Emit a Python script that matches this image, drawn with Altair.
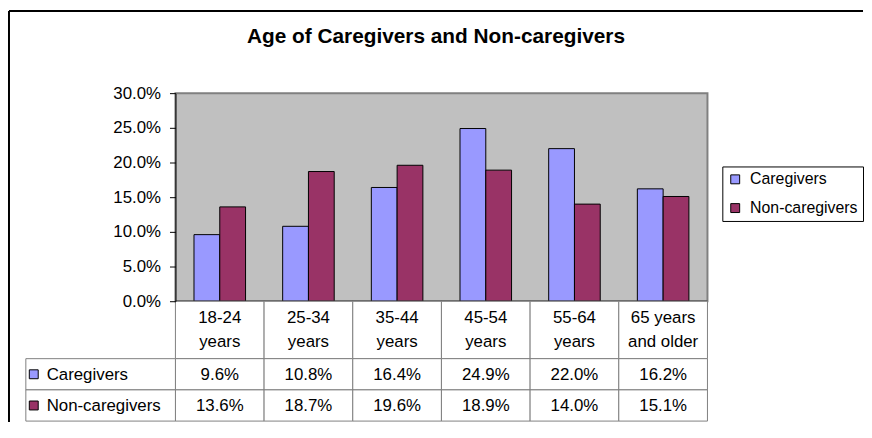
import altair as alt
import pandas as pd

# ---------------- data ----------------
age_groups = ["18-24 years", "25-34 years", "35-44 years",
              "45-54 years", "55-64 years", "65 years and older"]
header_labels = ["18-24\nyears", "25-34\nyears", "35-44\nyears",
                 "45-54\nyears", "55-64\nyears", "65 years\nand older"]
series_names = ["Caregivers", "Non-caregivers"]
caregivers = [9.6, 10.8, 16.4, 24.9, 22.0, 16.2]
non_caregivers = [13.6, 18.7, 19.6, 18.9, 14.0, 15.1]
y_ticks = [0, 5, 10, 15, 20, 25, 30]
colors = ["#9999FF", "#993366"]
title_text = "Age of Caregivers and Non-caregivers"

# ---------------- layout ----------------
FONT = "Liberation Sans"
FS = 17
W, H = 862, 415
PX = [168, 705]      # plot area x range
PY = [293, 83]       # plot area y range (0% -> 30%)
HEAD = [293, 351]    # header row of the data table
BODY = [351, 414]    # two data rows
LABX = [17, 168]     # row-label column
LAB_HALF = (LABX[1] - LABX[0]) / 2
GRID = "#808080"

long = pd.DataFrame({
    "age": age_groups * 2,
    "series": [s for s in series_names for _ in age_groups],
    "value": caregivers + non_caregivers,
})
long["label"] = long["value"].map(lambda v: f"{v:.1f}%")
head = pd.DataFrame({"age": age_groups, "header": header_labels, "row": "header"})
rows = pd.DataFrame({"series": series_names, "col": "label"})
one = pd.DataFrame({"k": [0]})

x_cat = alt.Scale(domain=age_groups, range=PX, paddingInner=0, paddingOuter=0)
y_val = alt.Scale(domain=[0, 30], range=PY, nice=False, zero=True)
x_unit = alt.Scale(domain=[0, 1], range=PX)
frame_x = alt.Scale(domain=[0, 1], range=[0, W])
frame_y = alt.Scale(domain=[0, 1], range=[0, H])
y_head = alt.Scale(domain=["header"], range=HEAD, paddingInner=0, paddingOuter=0)
y_row = alt.Scale(domain=series_names, range=BODY, paddingInner=0, paddingOuter=0)
x_lab = alt.Scale(domain=["label"], range=LABX, paddingInner=0, paddingOuter=0)

color = alt.Color(
    "series:N",
    scale=alt.Scale(domain=series_names, range=colors),
    legend=alt.Legend(
        title=None, orient="none", legendX=720, legendY=157,
        direction="vertical", strokeColor="black", fillColor="white",
        padding=5, symbolType="square", symbolSize=81,
        symbolStrokeColor="black", symbolStrokeWidth=1,
        labelFont=FONT, labelFontSize=16, labelColor="black",
        rowPadding=13, labelOffset=7,
    ),
)

frame_top = alt.Chart(one).mark_rule(color="black", strokeWidth=2).encode(
    y=alt.YDatum(0, type="quantitative", scale=frame_y, axis=None))
frame_left = alt.Chart(one).mark_rule(color="black", strokeWidth=2).encode(
    x=alt.XDatum(0, type="quantitative", scale=frame_x, axis=None))

plot_bg = alt.Chart(one).mark_rect(fill="#C0C0C0", stroke=GRID, strokeWidth=2).encode(
    x=alt.XDatum(0, type="quantitative", scale=x_unit, axis=None),
    x2=alt.X2Datum(1),
    y=alt.YDatum(0, type="quantitative", scale=y_val, axis=None),
    y2=alt.Y2Datum(30),
)

bars = alt.Chart(long).mark_bar(stroke="black", strokeWidth=1, opacity=1).encode(
    x=alt.X("age:N", scale=x_cat, axis=None, sort=age_groups),
    xOffset=alt.XOffset("series:N", sort=series_names,
                        scale=alt.Scale(domain=series_names, paddingInner=0, paddingOuter=0.72)),
    y=alt.Y("value:Q", scale=y_val, axis=alt.Axis(
        orient="left", offset=-PX[0], values=y_ticks, title=None, grid=False,
        labelExpr="format(datum.value, '.1f') + '%'",
        domainColor="black", tickColor="black", tickSize=6, domainWidth=1,
        labelFont=FONT, labelFontSize=FS, labelColor="black", labelPadding=9,
        zindex=2)),
    color=color,
)

zero_line = alt.Chart(one).mark_rule(color="black", strokeWidth=1).encode(
    x=alt.XDatum(0, type="quantitative", scale=x_unit, axis=None),
    x2=alt.X2Datum(1),
    y=alt.YDatum(0, type="quantitative", scale=y_val, axis=None),
)

head_cells = alt.Chart(head).mark_rect(fill="white", stroke=GRID, strokeWidth=1).encode(
    x=alt.X("age:N", scale=x_cat, axis=None, sort=age_groups),
    y=alt.Y("row:N", scale=y_head, axis=None),
)
head_text = alt.Chart(head).mark_text(
    lineBreak="\n", lineHeight=24, font=FONT, fontSize=FS, color="black",
    baseline="middle", align="center", dy=-12).encode(
    x=alt.X("age:N", scale=x_cat, axis=None, sort=age_groups),
    y=alt.Y("row:N", scale=y_head, axis=None),
    text="header:N",
)

body_cells = alt.Chart(long).mark_rect(fill="white", stroke=GRID, strokeWidth=1).encode(
    x=alt.X("age:N", scale=x_cat, axis=None, sort=age_groups),
    y=alt.Y("series:N", scale=y_row, axis=None),
)
body_text = alt.Chart(long).mark_text(
    font=FONT, fontSize=FS, color="black", baseline="middle", align="center", dy=1).encode(
    x=alt.X("age:N", scale=x_cat, axis=None, sort=age_groups),
    y=alt.Y("series:N", scale=y_row, axis=None),
    text="label:N",
)

lab_cells = alt.Chart(rows).mark_rect(fill="white", stroke=GRID, strokeWidth=1).encode(
    x=alt.X("col:N", scale=x_lab, axis=None),
    y=alt.Y("series:N", scale=y_row, axis=None),
)
lab_marks = alt.Chart(rows).mark_square(
    size=81, stroke="black", strokeWidth=1, opacity=1, xOffset=-LAB_HALF + 8).encode(
    x=alt.X("col:N", scale=x_lab, axis=None),
    y=alt.Y("series:N", scale=y_row, axis=None),
    color=color,
)
lab_text = alt.Chart(rows).mark_text(
    font=FONT, fontSize=FS, color="black", baseline="middle", align="left",
    dx=-LAB_HALF + 21, dy=1).encode(
    x=alt.X("col:N", scale=x_lab, axis=None),
    y=alt.Y("series:N", scale=y_row, axis=None),
    text="series:N",
)

chart = alt.layer(
    frame_top, frame_left, plot_bg, bars, zero_line,
    head_cells, head_text, body_cells, body_text,
    lab_cells, lab_marks, lab_text,
).resolve_scale(
    x="independent", y="independent"
).properties(
    width=W, height=H, padding=0,
    title=alt.TitleParams(title_text, font=FONT, fontSize=21, fontWeight="bold",
                          anchor="middle", offset=-37, color="black"),
).configure_view(stroke=None)

chart.save("out.html", embed_options={"renderer": "svg", "actions": False})
